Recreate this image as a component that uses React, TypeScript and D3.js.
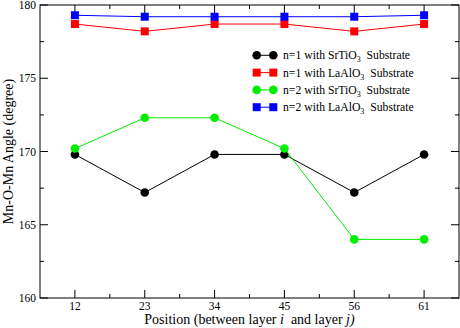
import React from "react";
import * as d3 from "d3";

const positions = ["12", "23", "34", "45", "56", "61"];
const n1Sr = [169.8, 167.2, 169.8, 169.8, 167.2, 169.8];
const n1La = [178.7, 178.2, 178.7, 178.7, 178.2, 178.7];
const n2Sr = [170.2, 172.3, 172.3, 170.2, 164.0, 164.0];
const n2La = [179.3, 179.2, 179.2, 179.2, 179.2, 179.3];
const yTicks = [160, 165, 170, 175, 180];
const yMinor = [162.5, 167.5, 172.5, 177.5];

const series = [
  { name: "n=1 with SrTiO", values: n1Sr, color: "#000000", shape: "circle" },
  { name: "n=1 with LaAlO", values: n1La, color: "#ff0000", shape: "square" },
  { name: "n=2 with SrTiO", values: n2Sr, color: "#00ee00", shape: "circle" },
  { name: "n=2 with LaAlO", values: n2La, color: "#0000ff", shape: "square" },
];

const W = 460, H = 328;
const L = 40, R = 459, T = 5, B = 298;
const FONT = '"Liberation Serif"';

export default function App() {
  const x = d3.scaleLinear().domain([-0.5, 5.5]).range([L, R]);
  const y = d3.scaleLinear().domain([160, 180]).range([B, T]);
  const line = d3.line<number>().x((_, i) => x(i)).y((v) => y(v));
  const xMinor = d3.range(0, 5).map((i) => i + 0.5);
  const fs = { fontFamily: FONT };

  const marker = (shape: string, cx: number, cy: number, color: string, key: any) =>
    shape === "circle" ? (
      <circle key={key} cx={cx} cy={cy} r={4.3} fill={color} />
    ) : (
      <rect key={key} x={cx - 4} y={cy - 4} width={8} height={8} fill={color} />
    );

  return (
    <svg width={W} height={H} style={{ position: "absolute", left: 0, top: 0 }}>
      <rect x={0} y={0} width={W} height={H} fill="#fff" />
      {yTicks.map((t) => (
        <g key={"y" + t}>
          <line x1={L} x2={L + 8} y1={y(t)} y2={y(t)} stroke="#000" />
          <line x1={R} x2={R - 8} y1={y(t)} y2={y(t)} stroke="#000" />
          <text x={L - 4} y={y(t)} dy="0.35em" textAnchor="end" fontSize={11.5} style={fs}>
            {t}
          </text>
        </g>
      ))}
      {yMinor.map((t) => (
        <g key={"ym" + t}>
          <line x1={L} x2={L + 4} y1={y(t)} y2={y(t)} stroke="#000" />
          <line x1={R} x2={R - 4} y1={y(t)} y2={y(t)} stroke="#000" />
        </g>
      ))}
      {positions.map((p, i) => (
        <g key={"x" + p}>
          <line x1={x(i)} x2={x(i)} y1={B} y2={B - 8} stroke="#000" />
          <line x1={x(i)} x2={x(i)} y1={T} y2={T + 8} stroke="#000" />
          <text x={x(i)} y={B + 12} textAnchor="middle" fontSize={11.5} style={fs}>
            {p}
          </text>
        </g>
      ))}
      {xMinor.map((v) => (
        <g key={"xm" + v}>
          <line x1={x(v)} x2={x(v)} y1={B} y2={B - 4} stroke="#000" />
          <line x1={x(v)} x2={x(v)} y1={T} y2={T + 4} stroke="#000" />
        </g>
      ))}
      {series.map((s, si) => (
        <g key={"s" + si}>
          <path d={line(s.values) || ""} fill="none" stroke={s.color} strokeWidth={1} />
          {s.values.map((v, i) => marker(s.shape, x(i), y(v), s.color, i))}
        </g>
      ))}
      <rect x={L} y={T} width={R - L} height={B - T} fill="none" stroke="#000" strokeWidth={1} />
      {series.map((s, i) => {
        const ly = 55.3 + i * 17.3;
        return (
          <g key={"l" + i}>
            <line x1={256.7} x2={273.3} y1={ly} y2={ly} stroke={s.color} />
            {marker(s.shape, 256.7, ly, s.color, "a")}
            {marker(s.shape, 273.3, ly, s.color, "b")}
            <text x={283} y={ly} dy="0.35em" fontSize={11.7} style={fs}>
              {s.name}
              <tspan dy="3" fontSize={8}>3</tspan>
              <tspan dy="-3">{"\u00a0 Substrate"}</tspan>
            </text>
          </g>
        );
      })}
      <text x={(L + R) / 2} y={323.5} textAnchor="middle" fontSize={14} style={fs}>
        Position (between layer <tspan fontStyle="italic">i</tspan>{"\u00a0 and layer "}
        <tspan fontStyle="italic">j)</tspan>
      </text>
      <text
        transform={`translate(13,${(T + B) / 2}) rotate(-90)`}
        textAnchor="middle"
        fontSize={14}
        style={fs}
      >
        Mn-O-Mn Angle (degree)
      </text>
    </svg>
  );
}
